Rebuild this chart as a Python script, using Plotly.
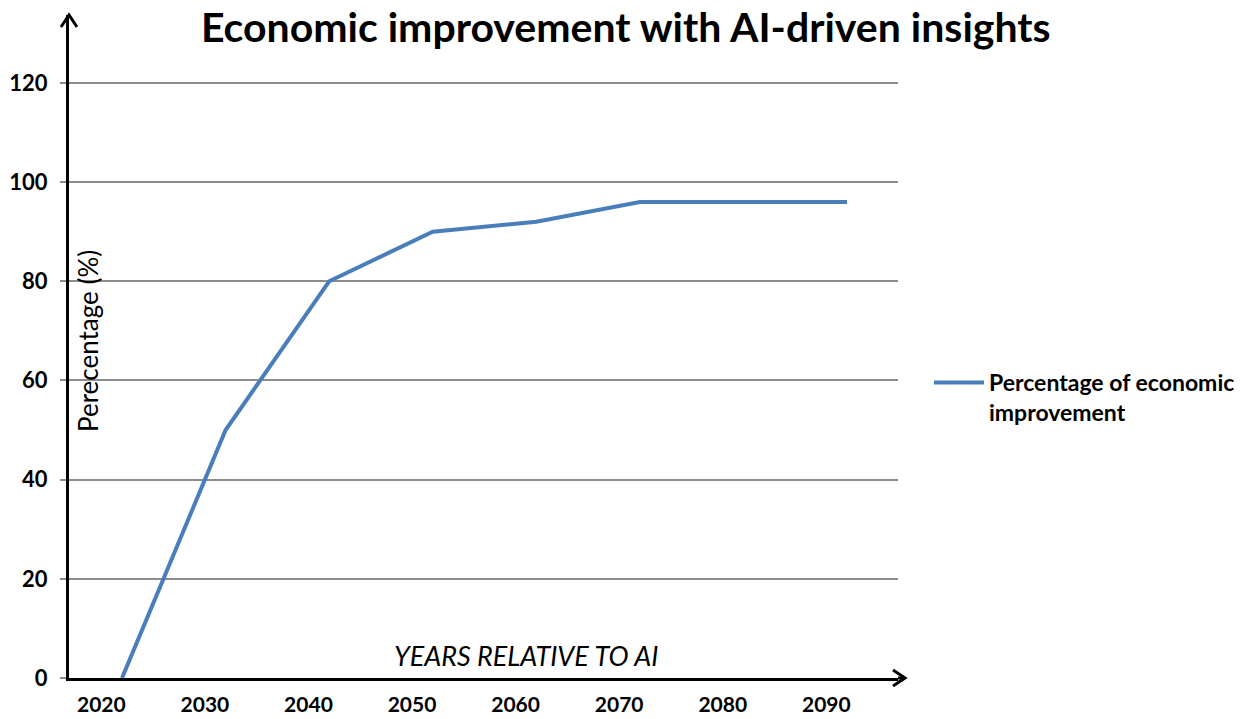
import plotly.graph_objects as go

# ---- data ----
years = [2022, 2032, 2042, 2052, 2062, 2072, 2082, 2092]
improvement = [0, 50, 80, 90, 92, 96, 96, 96]
tick_years = [2020, 2030, 2040, 2050, 2060, 2070, 2080, 2090]
tick_labels = ["2020", "2030", "2040", "2050", "2060", "2070", "2080", "2090"]
y_ticks = [0, 20, 40, 60, 80, 100, 120]
series_name = "<b>Percentage of economic<br>improvement</b>"
title_text = "<b>Economic improvement with AI-driven insights</b>"
x_title = "YEARS RELATIVE TO AI"
y_title = "Perecentage (%)"

FONT = "Lato, 'Open Sans', sans-serif"
W, H = 1244, 719
L, R, T, B = 69, 898, 15, 678  # plot area in pixels

def px(xp):
    return (xp - L) / (R - L)

def py(yp):
    return (B - yp) / (B - T)

fig = go.Figure()
fig.add_trace(go.Scatter(
    x=years, y=improvement, mode="lines", name=series_name,
    line=dict(color="#4a7ebb", width=4),
))

fig.update_layout(
    width=W, height=H,
    margin=dict(l=L, r=W - R, t=T, b=H - B, autoexpand=False),
    paper_bgcolor="white", plot_bgcolor="white",
    font=dict(family=FONT, color="black"),
    title=dict(text=title_text, x=0.503, xanchor="center", y=1 - 28 / H,
               yanchor="middle", font=dict(size=41, family=FONT, color="black")),
    showlegend=True,
    legend=dict(x=px(929), y=py(361), xanchor="left", yanchor="top",
                font=dict(size=23, family=FONT, color="black"),
                bgcolor="rgba(0,0,0,0)", valign="top", itemwidth=50),
    xaxis=dict(range=[2016.88, 2096.92], tickmode="array", tickvals=tick_years,
               ticktext=[f"<b>{t}</b>" for t in tick_labels], showgrid=False,
               zeroline=False, showline=True, linecolor="black", linewidth=3,
               ticks="", tickfont=dict(size=21, family=FONT, color="black"),
               ticklabelstandoff=6, automargin=False),
    yaxis=dict(range=[0, 133.7], tickmode="array", tickvals=y_ticks,
               ticktext=[f"<b>{v}</b>" for v in y_ticks], showgrid=True,
               gridcolor="#8c8c8c", gridwidth=1.5, zeroline=False,
               showline=True, linecolor="black", linewidth=3,
               ticks="outside", ticklen=6, tickcolor="#8c8c8c", tickwidth=1.5,
               tickfont=dict(size=22, family=FONT, color="black"),
               ticklabelstandoff=8, automargin=False),
)

# arrowheads (open chevrons) on axis ends
fig.add_shape(type="line", xref="paper", yref="paper", x0=1, x1=px(905), y0=0, y1=0,
              line=dict(color="black", width=3))
fig.add_shape(type="path", xref="paper", yref="paper",
              path=f"M {px(893)},{py(670)} L {px(905)},{py(678)} L {px(893)},{py(686)}",
              line=dict(color="black", width=3))
fig.add_shape(type="path", xref="paper", yref="paper",
              path=f"M {px(61)},{py(27)} L {px(69)},{py(15)} L {px(77)},{py(27)}",
              line=dict(color="black", width=3))

# axis titles placed inside plot area as in reference
fig.add_annotation(text=f"<i>{x_title}</i>", xref="paper", yref="paper",
                   x=px(526), y=py(655), xanchor="center", yanchor="middle",
                   showarrow=False, font=dict(size=27, family=FONT, color="black"))
fig.add_annotation(text=y_title, xref="paper", yref="paper",
                   x=px(88), y=py(341), xanchor="center", yanchor="middle",
                   showarrow=False, textangle=-90,
                   font=dict(size=26, family=FONT, color="black"))

fig.write_html("out.html")
